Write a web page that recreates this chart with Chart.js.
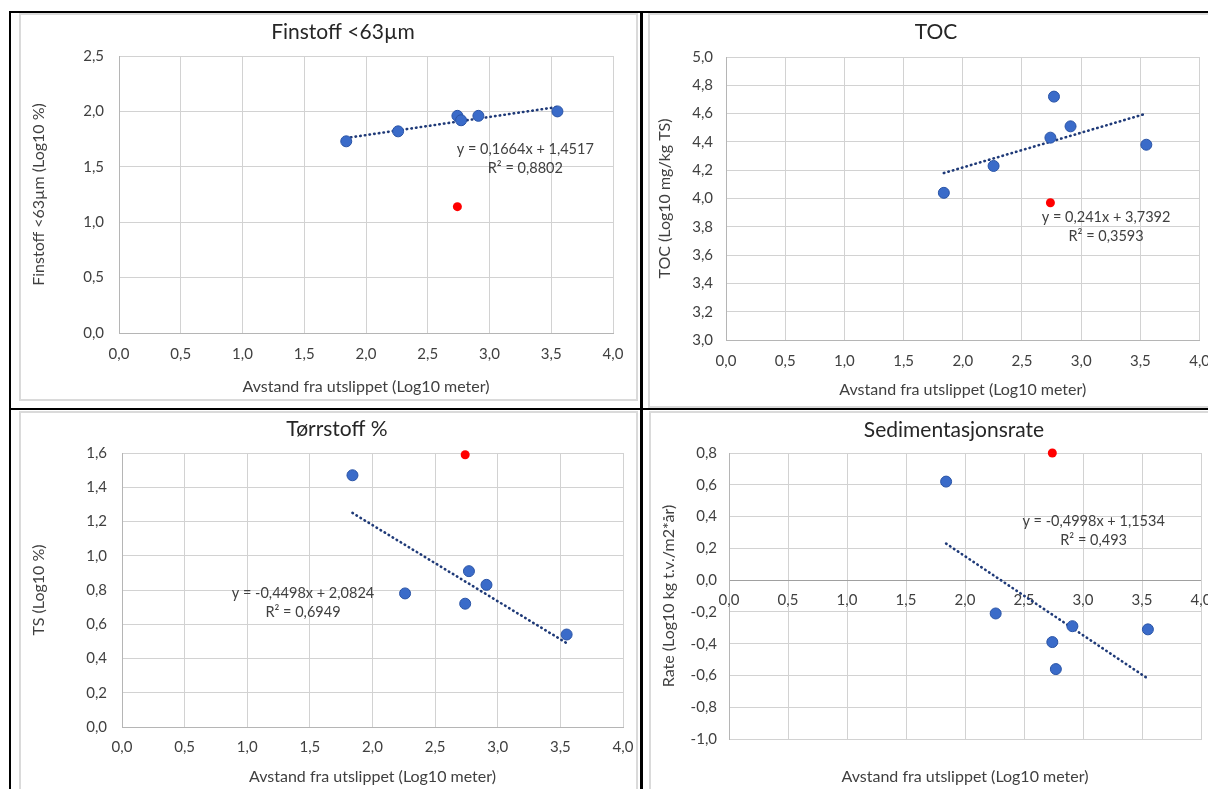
<!DOCTYPE html>
<html>
<head>
<meta charset="utf-8">
<script src="https://cdn.jsdelivr.net/npm/chart.js@4.4.1/dist/chart.umd.min.js"></script>
<style>
  html, body { margin: 0; padding: 0; background: #fff; overflow: hidden; width: 1208px; height: 789px; }
  .box { position: absolute; border: 2px solid #dadada; box-sizing: border-box; }
  .line { position: absolute; background: #000; z-index: 5; }
  canvas { position: absolute; z-index: 2; }
</style>
</head>
<body>
<div class="box" style="left:19px;top:13px;width:619px;height:388px"></div>
<div class="box" style="left:648px;top:13px;width:600px;height:395px"></div>
<div class="box" style="left:19px;top:411px;width:619px;height:400px"></div>
<div class="box" style="left:649px;top:411px;width:600px;height:400px"></div>

<canvas id="finstoff" width="644" height="384" style="left:21px;top:15px"></canvas>
<canvas id="toc" width="572" height="391" style="left:650px;top:15px"></canvas>
<canvas id="ts" width="632" height="376" style="left:21px;top:413px"></canvas>
<canvas id="rate" width="606" height="376" style="left:651px;top:413px"></canvas>

<div class="line" style="left:9px;top:11px;width:1199px;height:2px"></div>
<div class="line" style="left:9px;top:11px;width:2px;height:778px"></div>
<div class="line" style="left:640px;top:11px;width:3px;height:778px"></div>
<div class="line" style="left:9px;top:408px;width:1199px;height:2px"></div>

<script>
// distances shared by all four panels (Log10 meter)
const distance = [1.84, 2.26, 2.74, 2.77, 2.91, 3.55];
const redDistance = [2.74];
const trendDistance = [1.84, 3.55];

const finstoffBlue = [1.73, 1.82, 1.96, 1.92, 1.96, 2.00];
const finstoffRed = [1.14];
const finstoffTrend = [1.76, 2.04];

const tocBlue = [4.04, 4.23, 4.43, 4.72, 4.51, 4.38];
const tocRed = [3.97];
const tocTrend = [4.18, 4.60];

const tsBlue = [1.47, 0.78, 0.72, 0.91, 0.83, 0.54];
const tsRed = [1.59];
const tsTrend = [1.25, 0.49];

const rateBlue = [0.62, -0.21, -0.39, -0.56, -0.29, -0.31];
const rateRed = [0.80];
const rateTrend = [0.23, -0.62];

const xTitle = "Avstand fra utslippet (Log10 meter)";
const FONT = "Lato, 'Open Sans', sans-serif";

Chart.defaults.font.family = FONT;
Chart.defaults.animation = false;

function pts(xs, ys) {
  return xs.map((x, i) => ({ x, y: ys[i] }));
}

function fmt(v) {
  if (Math.abs(v) < 1e-9) v = 0;
  return v.toFixed(1).replace(".", ",");
}

// trendline equation text, placed in data coordinates
const eqLabel = {
  id: "eqLabel",
  afterDatasetsDraw(chart, args, opts) {
    const { ctx, scales } = chart;
    const x = scales.x.getPixelForValue(opts.x);
    ctx.save();
    ctx.font = "14.5px " + FONT;
    ctx.fillStyle = "#404040";
    ctx.textAlign = "center";
    ctx.textBaseline = "middle";
    opts.lines.forEach((t, i) => ctx.fillText(t, x, scales.y.getPixelForValue(opts.y[i])));
    ctx.restore();
  },
};

function makeChart(id, o) {
  const scales = {
    x: {
      type: "linear",
      min: 0,
      max: 4,
      ticks: { stepSize: 0.5, padding: o.xTickPad, callback: fmt, color: "#404040", font: { size: 15 }, display: !o.zeroAxis },
      grid: { color: "#d2d2d2", drawTicks: false },
      border: { color: o.zeroAxis ? "#d2d2d2" : "#b5b5b5" },
      title: { display: true, text: xTitle, color: "#404040", font: { size: 16, lineHeight: 1.2 }, padding: { top: 0, bottom: o.xTitlePad } },
      afterFit: (s) => { s.height = o.xHeight; },
    },
    y: {
      type: "linear",
      min: o.yMin,
      max: o.yMax,
      ticks: { stepSize: o.yStep, padding: o.yTickPad, callback: fmt, color: "#404040", font: { size: 15 } },
      grid: {
        drawTicks: false,
        color: (c) => (o.zeroAxis && c.tick && Math.abs(c.tick.value) < 1e-9 ? "#a0a0a0" : "#d2d2d2"),
      },
      border: { color: "#b5b5b5" },
      title: { display: true, text: o.yTitle, color: "#404040", font: { size: 16, lineHeight: 1.2 }, padding: { top: o.yTitlePad, bottom: 0 } },
      afterFit: (s) => { s.width = o.yWidth; },
    },
    // empty right axis, only keeps the plot away from the right edge
    yPad: {
      type: "linear",
      position: "right",
      display: true,
      ticks: { display: false },
      grid: { display: false },
      border: { display: false },
      afterFit: (s) => { s.width = o.rightPad; },
    },
  };
  if (o.zeroAxis) {
    scales.x2 = {
      type: "linear",
      axis: "x",
      position: { y: 0 },
      min: 0,
      max: 4,
      ticks: { stepSize: 0.5, padding: 11, callback: fmt, color: "#404040", font: { size: 15 } },
      grid: { display: false, drawTicks: false },
      border: { display: false },
    };
  }

  return new Chart(document.getElementById(id), {
    type: "scatter",
    data: {
      datasets: [
        {
          data: pts(distance, o.blue),
          xAxisID: "x",
          yAxisID: "y",
          clip: false,
          pointRadius: 5.5,
          pointBackgroundColor: "#3a6bc9",
          pointBorderColor: "#2a54a6",
          pointBorderWidth: 1,
        },
        {
          data: pts(redDistance, o.red),
          xAxisID: "x",
          yAxisID: "y",
          clip: false,
          pointRadius: 4.5,
          pointBackgroundColor: "#ff0000",
          pointBorderColor: "#ff0000",
          pointBorderWidth: 0,
        },
        {
          data: pts(trendDistance, o.trend),
          xAxisID: "x",
          yAxisID: "y",
          showLine: true,
          pointRadius: 0,
          borderColor: "#1f3a78",
          borderWidth: 2.6,
          borderDash: [0.5, 4.2],
          borderCapStyle: "round",
        },
      ],
    },
    options: {
      responsive: false,
      layout: { padding: 0 },
      scales,
      plugins: {
        legend: { display: false },
        tooltip: { enabled: false },
        title: {
          display: true,
          text: o.title,
          color: "#262626",
          font: { size: 21, weight: "normal", lineHeight: 1.2 },
          padding: { top: o.titleTop, bottom: o.titleBottom },
        },
        eqLabel: o.eq,
      },
    },
    plugins: [eqLabel],
  });
}

makeChart("finstoff", {
  title: "Finstoff <63µm",
  yTitle: "Finstoff <63µm (Log10 %)",
  blue: finstoffBlue, red: finstoffRed, trend: finstoffTrend,
  yMin: 0, yMax: 2.5, yStep: 0.5,
  yWidth: 98, rightPad: 52, xHeight: 66,
  titleTop: 4.4, titleBottom: 11.4,
  yTitlePad: 8.4, yTickPad: 15, xTickPad: 12, xTitlePad: 2.4,
  eq: { x: 3.29, y: [1.66, 1.49], lines: ["y = 0,1664x + 1,4517", "R² = 0,8802"] },
});

makeChart("toc", {
  title: "TOC",
  yTitle: "TOC (Log10 mg/kg TS)",
  blue: tocBlue, red: tocRed, trend: tocTrend,
  yMin: 3, yMax: 5, yStep: 0.2,
  yWidth: 76, rightPad: 20, xHeight: 66,
  titleTop: 4.4, titleBottom: 12.4,
  yTitlePad: 5.4, yTickPad: 13, xTickPad: 12, xTitlePad: 6.4,
  eq: { x: 3.21, y: [3.87, 3.73], lines: ["y = 0,241x + 3,7392", "R² = 0,3593"] },
});

makeChart("ts", {
  title: "Tørrstoff %",
  yTitle: "TS (Log10 %)",
  blue: tsBlue, red: tsRed, trend: tsTrend,
  yMin: 0, yMax: 1.6, yStep: 0.2,
  yWidth: 101, rightPad: 30, xHeight: 62,
  titleTop: 3.4, titleBottom: 11.4,
  yTitlePad: 8.4, yTickPad: 15, xTickPad: 11, xTitlePad: 2.4,
  eq: { x: 1.445, y: [0.78, 0.67], lines: ["y = -0,4498x + 2,0824", "R² = 0,6949"] },
});

makeChart("rate", {
  title: "Sedimentasjonsrate",
  yTitle: "Rate (Log10 kg t.v./m2*år)",
  blue: rateBlue, red: rateRed, trend: rateTrend,
  yMin: -1, yMax: 0.8, yStep: 0.2,
  yWidth: 78, rightPad: 56, xHeight: 50,
  titleTop: 4.4, titleBottom: 10.4,
  yTitlePad: 8.4, yTickPad: 12, xTickPad: 11, xTitlePad: 2.4,
  zeroAxis: true,
  eq: { x: 3.09, y: [0.37, 0.25], lines: ["y = -0,4998x + 1,1534", "R² = 0,493"] },
});
</script>
</body>
</html>
